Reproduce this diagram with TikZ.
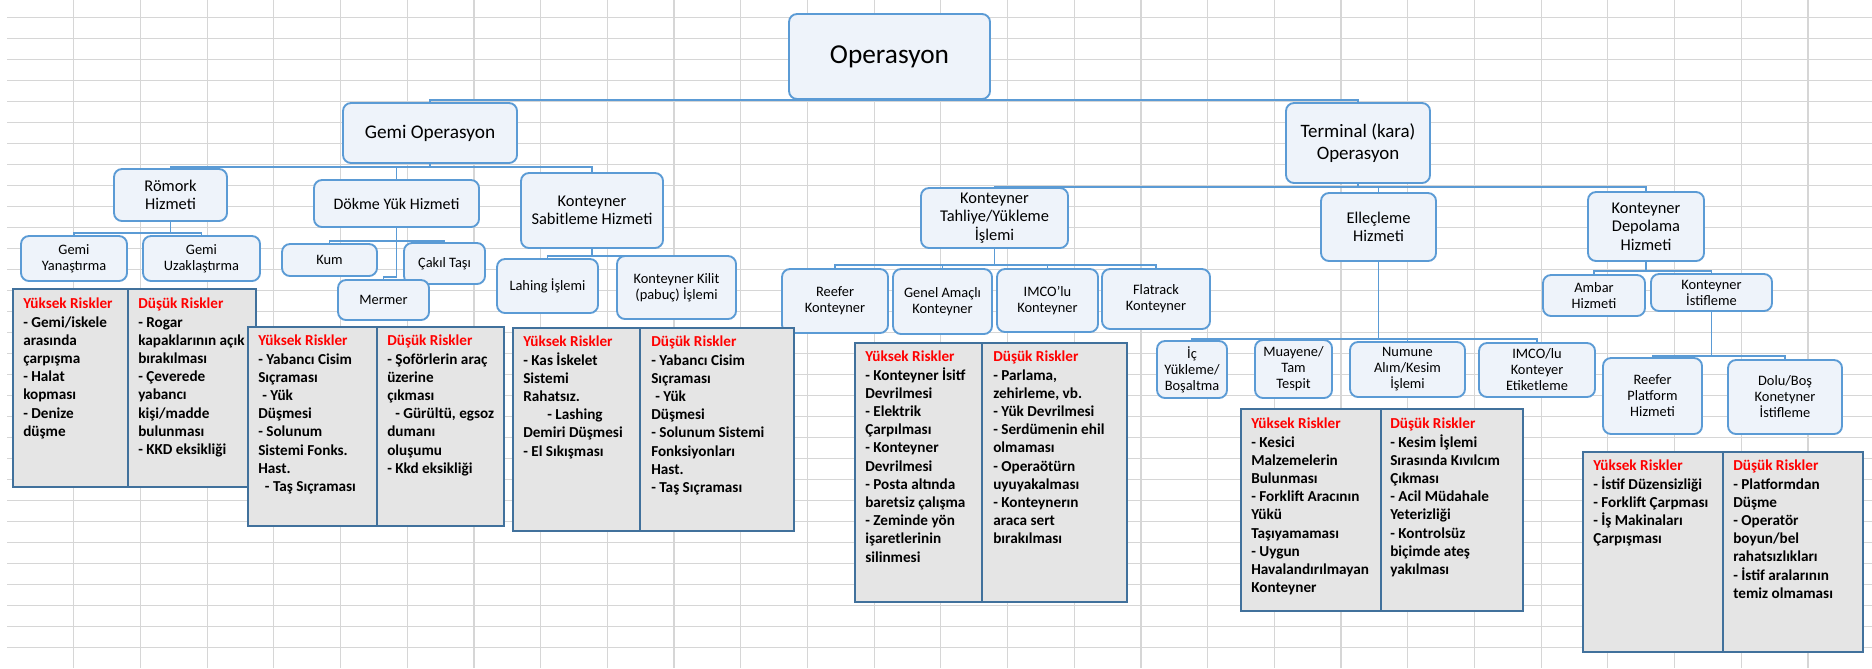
\documentclass[tikz,border=0pt]{standalone}
\usepackage{fontspec}
\setmainfont{Carlito}
\usepackage{xcolor}
\definecolor{kutucizgi}{RGB}{91,155,213}
\definecolor{kutudolgu}{RGB}{238,243,250}
\definecolor{riskcizgi}{RGB}{65,113,156}
\definecolor{riskdolgu}{RGB}{229,229,229}
\definecolor{izgara}{RGB}{214,214,214}
\newcommand{\yuksek}{\textcolor{red}{Yüksek Riskler}}
\newcommand{\dusuk}{\textcolor{red}{Düşük Riskler}}

\begin{document}
\begin{tikzpicture}[x=0.75pt,y=-0.75pt,
    kutu/.style={draw=kutucizgi,fill=kutudolgu,line width=1.4pt,rounded corners=6pt,
      align=center,inner sep=1pt,font=\fontsize{10.8}{12}\selectfont},
    orta/.style={kutu,font=\fontsize{12.3}{13.8}\selectfont},
    sz/.style 2 args={minimum width=#1*0.75pt,minimum height=#2*0.75pt},
    hat/.style={draw=kutucizgi,line width=1pt},
    risk/.style={draw=riskcizgi,fill=riskdolgu,line width=1.2pt},
    yazi/.style={anchor=north west,align=left,inner sep=0pt,
      font=\bfseries\fontsize{11.4}{13.65}\selectfont}]
  \fill[white] (0,0) rectangle (1872,668);
  \useasboundingbox (0,0) rectangle (1872,668);
  \foreach \k in {1,...,28}
    \draw[izgara,line width=0.9pt] ({7+66.7*\k},0) -- ({7+66.7*\k},668);
  \foreach \k in {0,...,30}
    \draw[izgara,line width=0.9pt] (7,{17.3+21*\k}) -- (1872,{17.3+21*\k});

  \node[kutu,sz={201}{85},font=\fontsize{20.5}{23}\selectfont] (op) at (889.5,56.5) {Operasyon};
  \node[kutu,sz={174}{60},font=\fontsize{14.5}{16.5}\selectfont] (gemi) at (430,133) {Gemi Operasyon};
  \node[kutu,sz={144}{80},font=\fontsize{14.2}{16.7}\selectfont] (term) at (1358,143) {Terminal (kara)\\Operasyon};

  \node[orta,sz={113}{52}] (rom) at (170.5,195) {Römork\\Hizmeti};
  \node[orta,sz={165}{47},font=\fontsize{12}{13.8}\selectfont] (dokme) at (396.5,203.5) {Dökme Yük Hizmeti};
  \node[orta,sz={142}{75}] (sabit) at (592,210.5) {Konteyner\\Sabitleme Hizmeti};
  \node[kutu,sz={106}{45}] (yan) at (74,258.5) {Gemi\\Yanaştırma};
  \node[kutu,sz={117}{45}] (uzak) at (201.5,258.5) {Gemi\\Uzaklaştırma};
  \node[kutu,sz={95}{32}] (kum) at (329.5,260) {Kum};
  \node[kutu,sz={81}{41}] (cakil) at (444.5,263.5) {Çakıl Taşı};
  \node[kutu,sz={91}{40}] (mermer) at (383.5,300) {Mermer};
  \node[kutu,sz={101}{54}] (lahing) at (547.5,286) {Lahing İşlemi};
  \node[kutu,sz={119}{63}] (kilit) at (676.5,287.5) {Konteyner Kilit\\(pabuç) İşlemi};

  \node[orta,sz={147}{60}] (tahliye) at (994.5,218) {Konteyner\\Tahliye/Yükleme\\İşlemi};
  \node[orta,sz={115}{68}] (ellec) at (1378.5,227) {Elleçleme\\Hizmeti};
  \node[orta,sz={116}{69}] (depo) at (1646,226.5) {Konteyner\\Depolama\\Hizmeti};
  \node[kutu,sz={106}{64}] (reefer) at (835,301) {Reefer\\Konteyner};
  \node[kutu,sz={99}{65}] (genel) at (942.5,301.5) {Genel Amaçlı\\Konteyner};
  \node[kutu,sz={101}{63}] (imco) at (1047.5,300.5) {IMCO'lu\\Konteyner};
  \node[kutu,sz={108}{60}] (flat) at (1156,299) {Flatrack\\Konteyner};
  \node[kutu,sz={70}{57}] (ic) at (1192,369.5) {İç\\Yükleme/\\Boşaltma};
  \node[kutu,sz={77}{58}] (muay) at (1293.5,369) {Muayene/\\Tam\\Tespit};
  \node[kutu,sz={115}{55}] (numune) at (1407.5,369.5) {Numune\\Alım/Kesim\\İşlemi};
  \node[kutu,sz={116}{54}] (etik) at (1537,370) {IMCO/lu\\Konteyer\\Etiketleme};
  \node[kutu,sz={102}{41}] (ambar) at (1594,295.5) {Ambar\\Hizmeti};
  \node[kutu,sz={121}{37}] (istif) at (1711.5,292.5) {Konteyner\\İstifleme};
  \node[kutu,sz={99}{76}] (rplat) at (1652.5,396) {Reefer\\Platform\\Hizmeti};
  \node[kutu,sz={114}{74}] (dolu) at (1785,397) {Dolu/Boş\\Konetyner\\İstifleme};

  \draw[hat] (gemi.north) |- (op.south) -| (term.north);
  \foreach \c in {rom,dokme,sabit} \draw[hat] (gemi.south) -- ++(0,3) -| (\c.north);
  \foreach \c in {yan,uzak} \draw[hat] (rom.south) -- ++(0,11) -| (\c.north);
  \foreach \c in {kum,cakil} \draw[hat] (dokme.south) -- ++(0,13) -| (\c.north);
  \draw[hat] (dokme.south) -- ++(0,49) -| (mermer.north);
  \foreach \c in {lahing,kilit} \draw[hat] (sabit.south) -- ++(0,7) -| (\c.north);
  \foreach \c in {tahliye,ellec,depo} \draw[hat] (term.south) -- ++(0,3) -| (\c.north);
  \foreach \c in {reefer,genel,imco,flat} \draw[hat] (tahliye.south) -- ++(0,16) -| (\c.north);
  \foreach \c in {ic,muay,numune,etik} \draw[hat] (ellec.south) -- ++(0,77) -| (\c.north);
  \foreach \c in {ambar,istif} \draw[hat] (depo.south) -- ++(0,9) -| (\c.north);
  \foreach \c in {rplat,dolu} \draw[hat] (istif.south) -- ++(0,44) -| (\c.north);

  \draw[risk] (13,289) rectangle (256,487);
  \draw[risk] (128,289) -- (128,487);
  \node[yazi] (r1y) at (23,298) {\yuksek\\- Gemi/iskele\\arasında\\çarpışma\\- Halat\\kopması\\- Denize\\düşme};
  \node[yazi] (r1d) at (138,298) {\dusuk\\- Rogar\\kapaklarının açık\\bırakılması\\- Çeverede\\yabancı\\kişi/madde\\bulunması\\- KKD eksikliği};

  \draw[risk] (248,327) rectangle (504,526);
  \draw[risk] (377,327) -- (377,526);
  \node[yazi] (r2y) at (258,335) {\yuksek\\- Yabancı Cisim\\Sıçraması\\\hspace*{3pt}- Yük\\Düşmesi\\- Solunum\\Sistemi Fonks.\\Hast.\\\hspace*{5pt}- Taş Sıçraması};
  \node[yazi] (r2d) at (387,335) {\dusuk\\- Şoförlerin araç\\üzerine\\çıkması\\\hspace*{6pt}- Gürültü, egsoz\\dumanı\\oluşumu\\- Kkd eksikliği};

  \draw[risk] (513,328) rectangle (794,531);
  \draw[risk] (640,328) -- (640,531);
  \node[yazi] (r3y) at (523,336) {\yuksek\\- Kas İskelet\\Sistemi\\Rahatsız.\\\hspace*{18pt}- Lashing\\Demiri Düşmesi\\- El Sıkışması};
  \node[yazi] (r3d) at (651,336) {\dusuk\\- Yabancı Cisim\\Sıçraması\\\hspace*{3pt}- Yük\\Düşmesi\\- Solunum Sistemi\\Fonksiyonları\\Hast.\\- Taş Sıçraması};

  \draw[risk] (855,343) rectangle (1127,602);
  \draw[risk] (982,343) -- (982,602);
  \node[yazi] (r4y) at (865,351) {\yuksek\\- Konteyner İsitf\\Devrilmesi\\- Elektrik\\Çarpılması\\- Konteyner\\Devrilmesi\\- Posta altında\\baretsiz çalışma\\- Zeminde yön\\işaretlerinin\\silinmesi};
  \node[yazi] (r4d) at (993,351) {\dusuk\\- Parlama,\\zehirleme, vb.\\- Yük Devrilmesi\\- Serdümenin ehil\\olmaması\\- Operaötürn\\uyuyakalması\\- Konteynerın\\araca sert\\bırakılması};

  \draw[risk] (1241,409) rectangle (1523,611);
  \draw[risk] (1381,409) -- (1381,611);
  \node[yazi] (r5y) at (1251,418) {\yuksek\\- Kesici\\Malzemelerin\\Bulunması\\- Forklift Aracının\\Yükü\\Taşıyamaması\\- Uygun\\Havalandırılmayan\\Konteyner};
  \node[yazi] (r5d) at (1390,418) {\dusuk\\- Kesim İşlemi\\Sırasında Kıvılcım\\Çıkması\\- Acil Müdahale\\Yeterizliği\\- Kontrolsüz\\biçimde ateş\\yakılması};

  \draw[risk] (1583,452) rectangle (1863,652);
  \draw[risk] (1723,452) -- (1723,652);
  \node[yazi] (r6y) at (1593,460) {\yuksek\\- İstif Düzensizliği\\- Forklift Çarpması\\- İş Makinaları\\Çarpışması};
  \node[yazi] (r6d) at (1733,460) {\dusuk\\- Platformdan\\Düşme\\- Operatör\\boyun/bel\\rahatsızlıkları\\- İstif aralarının\\temiz olmaması};
\end{tikzpicture}
\end{document}
